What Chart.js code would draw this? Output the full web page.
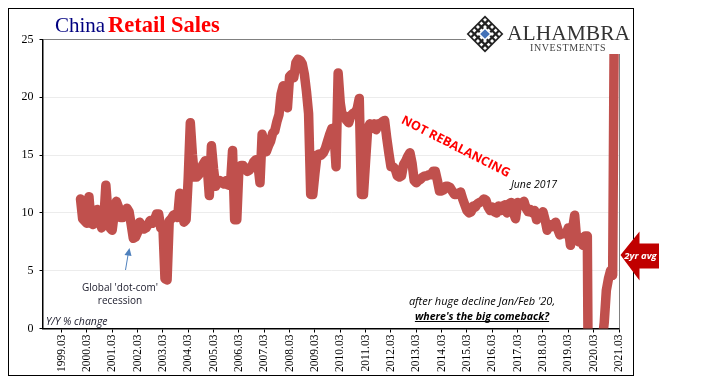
<!DOCTYPE html>
<html>
<head>
<meta charset="utf-8">
<title>China Retail Sales</title>
<script src="https://cdn.jsdelivr.net/npm/chart.js@4"></script>
<style>
  html, body { margin: 0; padding: 0; background: #fff; }
  canvas { display: block; }
</style>
</head>
<body>
<canvas id="retailChart" width="705" height="381"></canvas>
<script>
// x axis tick labels, one every 12 months
const tickLabels = ['1999.03', '2000.03', '2001.03', '2002.03', '2003.03', '2004.03', '2005.03', '2006.03',
  '2007.03', '2008.03', '2009.03', '2010.03', '2011.03', '2012.03', '2013.03', '2014.03', '2015.03',
  '2016.03', '2017.03', '2018.03', '2019.03', '2020.03', '2021.03'];
const yTicks = [0, 5, 10, 15, 20, 25];

// axis runs from 9 months before the first tick label
const monthsBeforeFirstTick = -9;
// first value is 1999.12, 9 months after the first tick label
const firstValueMonth = 9;

// Y/Y % change, monthly
const retailSales = [
  11.2,
  /* 2000 */ 9.5, 9.3, 9.1, 11.4, 9.1, 9.0, 9.3, 10.3, 9.6, 8.7, 9.3, 12.4,
  /* 2001 */ 10.0, 8.7, 8.5, 10.0, 11.0, 10.5, 9.6, 9.6, 9.8, 10.4, 10.1, 9.0,
  /* 2002 */ 7.8, 7.9, 8.3, 9.2, 8.9, 8.6, 8.7, 9.0, 9.35, 9.1, 9.4, 9.9,
  /* 2003 */ 9.9, 8.7, 8.9, 4.3, 4.2, 9.3, 9.5, 9.8, 9.9, 9.6, 11.7, 11.6,
  /* 2004 */ 9.2, 9.4, 13.0, 17.8, 15.0, 13.1, 13.1, 13.3, 13.8, 14.2, 14.5, 14.0,
  /* 2005 */ 11.5, 15.8, 13.8, 12.3, 12.7, 12.8, 12.6, 12.5, 12.8, 12.4, 12.4, 15.4,
  /* 2006 */ 9.4, 9.4, 13.8, 14.1, 14.1, 13.8, 13.6, 13.7, 14.0, 14.4, 14.6, 14.2,
  /* 2007 */ 12.6, 16.8, 16.0, 15.3, 15.8, 16.2, 16.9, 17.1, 17.9, 18.5, 20.3, 21.0,
  /* 2008 */ 20.2, 19.1, 21.8, 22.0, 21.7, 23.0, 23.3, 23.2, 22.9, 22.0, 20.5, 18.6,
  /* 2009 */ 11.6, 11.6, 13.4, 15.0, 15.1, 15.0, 15.2, 15.6, 16.2, 16.8, 17.3, 17.0,
  /* 2010 */ 14.0, 22.1, 19.5, 18.3, 18.4, 18.0, 17.8, 18.4, 18.6, 18.7, 19.0, 19.9,
  /* 2011 */ 11.6, 11.6, 14.5, 17.3, 17.7, 17.3, 17.7, 17.2, 17.7, 17.6, 17.9, 18.0,
  /* 2012 */ 16.5, 15.2, 14.0, 14.0, 13.8, 13.2, 13.1, 13.2, 14.2, 14.5, 14.9, 15.2,
  /* 2013 */ 14.3, 12.8, 12.6, 12.8, 12.9, 13.1, 13.2, 13.2, 13.3, 13.3, 13.6, 13.6,
  /* 2014 */ 12.8, 11.9, 11.9, 12.0, 12.3, 12.3, 12.2, 11.9, 11.6, 11.6, 11.7, 11.8,
  /* 2015 */ 11.2, 10.7, 10.2, 10.0, 10.1, 10.6, 10.5, 10.8, 10.9, 11.0, 11.2, 11.1,
  /* 2016 */ 10.5, 10.2, 10.5, 10.1, 10.0, 10.6, 10.2, 10.6, 10.7, 10.0, 10.8, 10.9,
  /* 2017 */ 10.0, 9.5, 10.9, 10.7, 10.7, 11.0, 10.4, 10.1, 10.3, 10.0, 10.2, 9.4,
  /* 2018 */ 9.7, 9.7, 10.1, 9.4, 8.5, 9.0, 8.8, 9.0, 9.2, 8.6, 8.1, 8.2,
  /* 2019 */ 8.2, 8.2, 8.7, 7.2, 8.6, 9.8, 7.6, 7.5, 7.8, 7.2, 8.0, 8.0,
  /* 2020 */ -20.5, -20.5, -15.8, -7.5, -2.8, -1.8, -1.1, 0.5, 3.3, 4.3, 5.0, 4.6,
  /* 2021 */ 33.8, 33.8, 34.2
];

const serif = '"Liberation Serif", serif';
const sans = '"Open Sans", sans-serif';

function drawText(ctx, text, x, y, font, color, align) {
  ctx.font = font;
  ctx.fillStyle = color;
  ctx.textAlign = align || 'left';
  ctx.textBaseline = 'alphabetic';
  ctx.fillText(text, x, y);
}

function drawLogo(ctx) {
  // white box of the pasted logo hides whatever runs under it
  ctx.fillStyle = '#fff';
  ctx.fillRect(466, 10, 166, 44);

  ctx.save();
  ctx.translate(485, 34);
  ctx.rotate(Math.PI / 4);
  ctx.fillStyle = '#222';
  ctx.fillRect(-13, -13, 26, 26);
  ctx.fillStyle = '#fff';
  for (let i = -2; i <= 2; i++) {
    for (let j = -2; j <= 2; j++) {
      if (Math.abs(i) < 1 && Math.abs(j) < 1) continue;
      ctx.fillRect(i * 5 - 1.4, j * 5 - 1.4, 2.8, 2.8);
    }
  }
  ctx.fillStyle = '#fff';
  ctx.fillRect(-5, -5, 10, 10);
  ctx.fillStyle = '#4472b8';
  ctx.fillRect(-3.4, -3.4, 6.8, 6.8);
  ctx.restore();

  drawText(ctx, 'ALHAMBRA', 507, 40, '21.5px ' + serif, '#333', 'left');
  ctx.letterSpacing = '0.6px';
  drawText(ctx, 'INVESTMENTS', 530, 51, '10px ' + serif, '#444', 'left');
  ctx.letterSpacing = '0px';
}

const annotations = {
  id: 'annotations',
  beforeDraw(chart) {
    const ctx = chart.ctx;
    ctx.save();
    ctx.fillStyle = '#fff';
    ctx.fillRect(0, 0, 705, 381);
    ctx.strokeStyle = '#000';
    ctx.lineWidth = 1;
    ctx.strokeRect(8.5, 8.5, 625, 367);
    ctx.restore();
  },
  afterDraw(chart) {
    const ctx = chart.ctx;
    const area = chart.chartArea;
    ctx.save();

    drawLogo(ctx);

    // right edge of the plot
    ctx.strokeStyle = '#808080';
    ctx.lineWidth = 1;
    ctx.beginPath();
    ctx.moveTo(area.right + 0.5, 54);
    ctx.lineTo(area.right + 0.5, area.bottom);
    ctx.stroke();

    // title
    drawText(ctx, 'China', 55, 32, '21px ' + serif, '#000080');
    drawText(ctx, 'Retail Sales', 108, 32, 'bold 22.5px ' + serif, '#ff0000');

    // rotated comment
    ctx.save();
    ctx.translate(454, 150);
    ctx.rotate(27 * Math.PI / 180);
    drawText(ctx, 'NOT REBALANCING', 0, 0, 'bold 12.5px ' + sans, '#ff0000', 'center');
    ctx.restore();

    drawText(ctx, 'June 2017', 511, 188, 'italic 10.5px ' + sans, '#000');
    drawText(ctx, "Global 'dot-com'", 120, 291, '10px ' + sans, '#1a1a2a', 'center');
    drawText(ctx, 'recession', 120, 304, '10px ' + sans, '#1a1a2a', 'center');
    drawText(ctx, 'Y/Y % change', 46, 325, 'italic 10.5px ' + sans, '#1a1a2a');
    drawText(ctx, "after huge decline Jan/Feb '20,", 482, 305, 'italic 11px ' + sans, '#000', 'center');

    const comeback = "where's the big comeback?";
    drawText(ctx, comeback, 482, 320, 'italic bold 10.6px ' + sans, '#000', 'center');
    const w = ctx.measureText(comeback).width;
    ctx.fillStyle = '#000';
    ctx.fillRect(482 - w / 2, 321, w, 1);

    // small blue arrow to the recession low
    ctx.strokeStyle = '#4f81bd';
    ctx.lineWidth = 1;
    ctx.beginPath();
    ctx.moveTo(125.5, 270);
    ctx.lineTo(128.5, 252);
    ctx.stroke();
    ctx.fillStyle = '#4f81bd';
    ctx.beginPath();
    ctx.moveTo(129.5, 248);
    ctx.lineTo(124.5, 255);
    ctx.lineTo(131.5, 256);
    ctx.closePath();
    ctx.fill();

    // big red arrow
    ctx.fillStyle = '#c00000';
    ctx.beginPath();
    ctx.moveTo(620.5, 255);
    ctx.lineTo(639.5, 231.5);
    ctx.lineTo(639.5, 243.5);
    ctx.lineTo(659, 243.5);
    ctx.lineTo(659, 268.5);
    ctx.lineTo(639.5, 268.5);
    ctx.lineTo(639.5, 280.5);
    ctx.closePath();
    ctx.fill();
    drawText(ctx, '2yr avg', 640.5, 259, 'italic bold 9.5px ' + sans, '#fff', 'center');

    ctx.restore();
  }
};

new Chart(document.getElementById('retailChart'), {
  type: 'line',
  data: {
    datasets: [{
      data: retailSales.map((value, i) => ({ x: firstValueMonth + i, y: value })),
      borderColor: '#c0504d',
      borderWidth: 9.5,
      borderJoinStyle: 'round',
      borderCapStyle: 'round',
      pointRadius: 0,
      tension: 0,
      clip: 0
    }]
  },
  plugins: [annotations],
  options: {
    responsive: false,
    animation: false,
    parsing: false,
    normalized: true,
    layout: { padding: { left: 0, right: 86, top: 39.5, bottom: 0 } },
    plugins: {
      legend: { display: false },
      title: { display: false },
      tooltip: { enabled: false }
    },
    scales: {
      x: {
        type: 'linear',
        min: monthsBeforeFirstTick,
        max: (tickLabels.length - 1) * 12,
        afterBuildTicks(scale) {
          scale.ticks = tickLabels.map((label, i) => ({ value: i * 12 }));
        },
        afterFit(scale) { scale.height = 52.5; },
        border: { color: '#000', width: 1.5 },
        grid: { drawOnChartArea: false, drawTicks: true, tickLength: 4, tickColor: '#000' },
        ticks: {
          autoSkip: false,
          maxRotation: 90,
          minRotation: 90,
          padding: 2,
          color: '#000',
          font: { family: '"Liberation Serif", serif', size: 11.5 },
          callback: (value) => tickLabels[value / 12]
        }
      },
      y: {
        min: 0,
        max: 25,
        afterBuildTicks(scale) {
          scale.ticks = yTicks.map((value) => ({ value }));
        },
        afterFit(scale) { scale.width = 42.5; },
        border: { color: '#000', width: 1.5 },
        grid: {
          color: (c) => (c.tick.value === 25 ? '#808080' : '#ececec'),
          tickColor: '#000',
          tickLength: 3
        },
        ticks: {
          padding: 6,
          color: '#000',
          font: { family: '"Liberation Serif", serif', size: 12 }
        }
      }
    }
  }
});
</script>
</body>
</html>
